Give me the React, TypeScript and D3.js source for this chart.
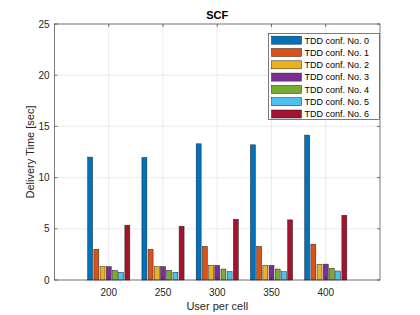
import React from "react";
import * as d3 from "d3";

const categories = [200, 250, 300, 350, 400];
const seriesNames = [
  "TDD conf. No. 0",
  "TDD conf. No. 1",
  "TDD conf. No. 2",
  "TDD conf. No. 3",
  "TDD conf. No. 4",
  "TDD conf. No. 5",
  "TDD conf. No. 6",
];
const conf0 = [12.0, 11.95, 13.3, 13.2, 14.15];
const conf1 = [3.0, 3.0, 3.28, 3.28, 3.5];
const conf2 = [1.3, 1.3, 1.43, 1.43, 1.53];
const conf3 = [1.3, 1.3, 1.43, 1.43, 1.55];
const conf4 = [0.94, 0.94, 1.07, 1.07, 1.14];
const conf5 = [0.75, 0.75, 0.81, 0.81, 0.88];
const conf6 = [5.35, 5.25, 5.93, 5.87, 6.32];
const series = [conf0, conf1, conf2, conf3, conf4, conf5, conf6];
const colors = ["#0072BD", "#D95319", "#EDB120", "#7E2F8E", "#77AC30", "#4DBEEE", "#A2142F"];
const yTicks = [0, 5, 10, 15, 20, 25];
const xDomain = [150, 450];

export default function App() {
  const W = 420, H = 315;
  const L = 54.5, R = 380, T = 24, B = 280;
  const x = d3.scaleLinear().domain(xDomain).range([L, R]);
  const y = d3.scaleLinear().domain([0, 25]).range([B, T]);
  const step = x(250) - x(200);
  const groupW = 0.8 * step;
  const n = series.length;
  const slot = groupW / n;
  const barW = slot * 0.8;
  const axisColor = "#262626";
  const font = "Liberation Sans, Arial, sans-serif";
  const legX = 268.5, legY = 33.5, legW = 111, legH = 86, rowH = 12.3;
  return (
    <svg width={W} height={H} style={{ position: "absolute", left: 0, top: 0 }} fontFamily={font}>
      <rect x={0} y={0} width={W} height={H} fill="#fff" />
      <rect x={L} y={T} width={R - L} height={B - T} fill="#fff" />
      {/* grid */}
      {categories.map((c) => (
        <line key={"gx" + c} x1={x(c)} x2={x(c)} y1={T} y2={B} stroke="#dfdfdf" strokeWidth={0.6} />
      ))}
      {yTicks.map((t) => (
        <line key={"gy" + t} x1={L} x2={R} y1={y(t)} y2={y(t)} stroke="#dfdfdf" strokeWidth={0.6} />
      ))}
      {/* bars */}
      {series.map((s, si) =>
        s.map((v, ci) => {
          const cx = x(categories[ci]) - groupW / 2 + slot * (si + 0.5);
          return (
            <rect
              key={si + "-" + ci}
              x={cx - barW / 2}
              y={y(v)}
              width={barW}
              height={y(0) - y(v)}
              fill={colors[si]}
              stroke="#222"
              strokeWidth={0.5}
            />
          );
        })
      )}
      {/* axes box */}
      <rect x={L} y={T} width={R - L} height={B - T} fill="none" stroke={axisColor} strokeWidth={0.6} />
      {categories.map((c) => (
        <g key={"xt" + c}>
          <line x1={x(c)} x2={x(c)} y1={B} y2={B - 3} stroke={axisColor} strokeWidth={0.6} />
          <line x1={x(c)} x2={x(c)} y1={T} y2={T + 3} stroke={axisColor} strokeWidth={0.6} />
          <text x={x(c)} y={B + 16} textAnchor="middle" fontSize={10} fill={axisColor}>
            {c}
          </text>
        </g>
      ))}
      {yTicks.map((t) => (
        <g key={"yt" + t}>
          <line x1={L} x2={L + 3} y1={y(t)} y2={y(t)} stroke={axisColor} strokeWidth={0.6} />
          <line x1={R} x2={R - 3} y1={y(t)} y2={y(t)} stroke={axisColor} strokeWidth={0.6} />
          <text x={L - 5} y={y(t) + 3.5} textAnchor="end" fontSize={10} fill={axisColor}>
            {t}
          </text>
        </g>
      ))}
      {/* title & labels */}
      <text x={(L + R) / 2} y={19} textAnchor="middle" fontSize={11} fontWeight="bold" fill="#000">
        SCF
      </text>
      <text x={(L + R) / 2} y={310} textAnchor="middle" fontSize={11} fill={axisColor}>
        User per cell
      </text>
      <text
        transform={`translate(34, ${(T + B) / 2}) rotate(-90)`}
        textAnchor="middle"
        fontSize={11}
        fill={axisColor}
      >
        Delivery Time [sec]
      </text>
      {/* legend */}
      <rect x={legX} y={legY} width={legW} height={legH} fill="#fff" stroke="#262626" strokeWidth={0.6} />
      {seriesNames.map((nm, i) => {
        const cy = legY + 6.7 + i * rowH;
        return (
          <g key={nm}>
            <rect x={legX + 3} y={cy - 4} width={30} height={8} fill={colors[i]} stroke="#222" strokeWidth={0.5} />
            <text x={legX + 36} y={cy + 3.3} fontSize={9} fill="#000">
              {nm}
            </text>
          </g>
        );
      })}
    </svg>
  );
}
